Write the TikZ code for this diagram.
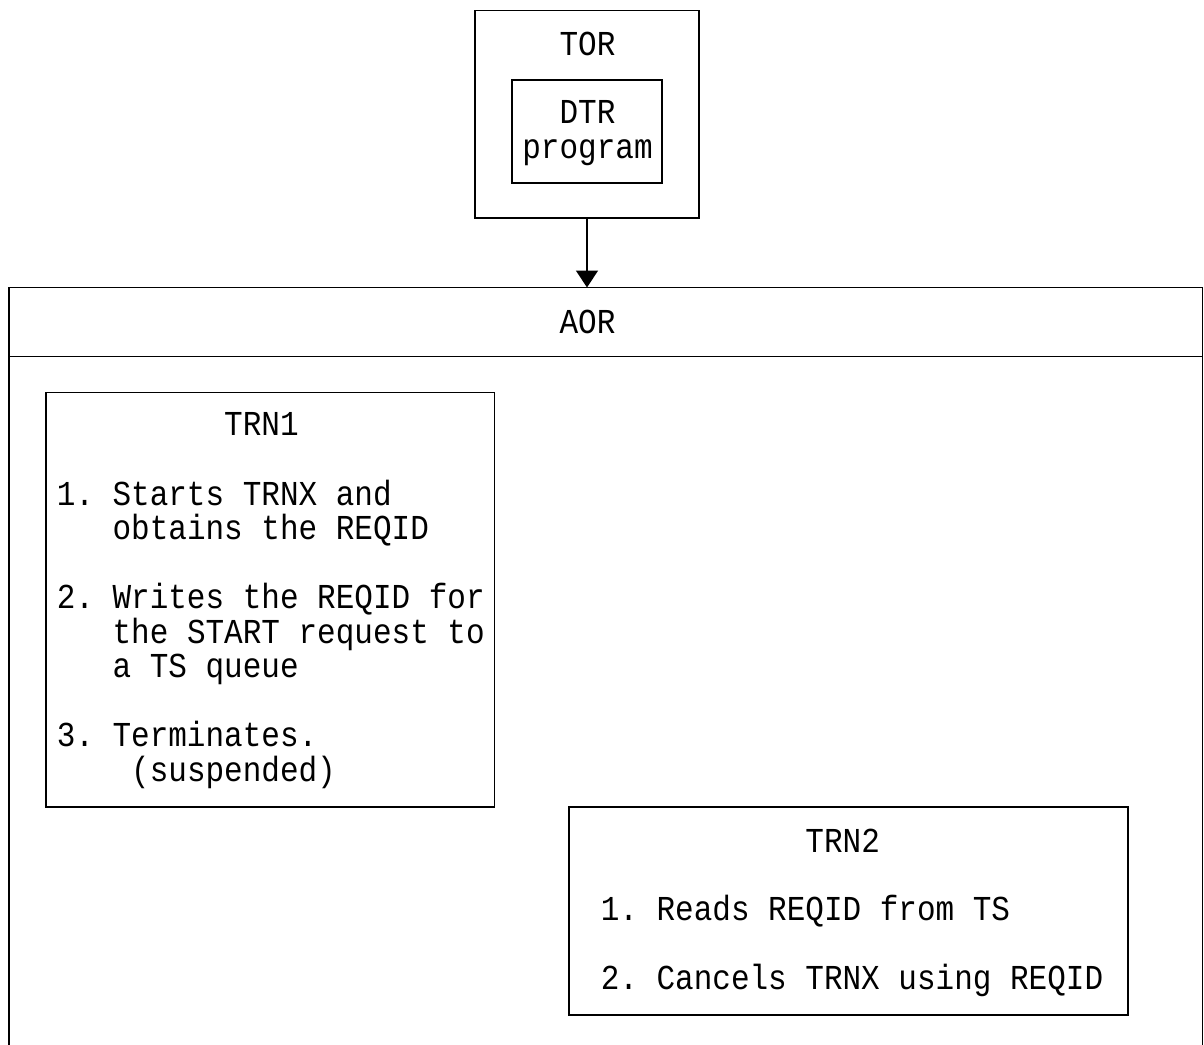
\documentclass[tikz,border=0pt]{standalone}
\usepackage{fontspec}
\newfontfamily\ibm{Liberation Mono}[FakeStretch=0.886]
\usetikzlibrary{arrows.meta}
\frenchspacing
\begin{document}
\begin{tikzpicture}[x=1pt,y=-1pt, line width=1.5pt,
  box/.style={draw, inner sep=0pt, outer sep=0pt},
  txt/.style={inner sep=0pt, font=\ibm\fontsize{35}{40}\selectfont},
  ln/.style={txt, anchor=base west},
  ctr/.style={txt, anchor=base}]
\useasboundingbox[fill=white] (0,0) rectangle (1204,1044);
% TOR
\node[box, minimum width=224pt, minimum height=207.5pt] (TOR) at (587,114.4) {};
\node[box, minimum width=150pt, minimum height=103pt] (DTR) at (587,131.5) {};
\node[ctr] (torlbl) at (587.5,55) {TOR};
\node[ctr] (dtr1) at (587.5,123) {DTR};
\node[ctr] (dtr2) at (587.5,158) {program};
% AOR
\node[inner sep=0pt, outer sep=0pt, minimum width=1193.5pt, minimum height=772.5pt] (AOR) at (605.75,673.75) {};
\draw (AOR.south west) -- (AOR.north west) -- (AOR.north east) -- (AOR.south east);
\coordinate (hdr) at (0,356.5);
\draw (AOR.west |- hdr) -- (AOR.east |- hdr);
\node[ctr] (aorlbl) at (587.5,333) {AOR};
\draw[-{Triangle[width=22pt,length=17pt]}] (TOR.south) -- (TOR.south |- AOR.north);
% TRN1
\node[box, minimum width=448.5pt, minimum height=414.5pt] (TRN1) at (270.2,599.5) {};
\node[ln] (t1a) at (56,435) {\ \ \ \ \ \ \ \ \ TRN1};
\node[ln] (t1b) at (56,505) {1. Starts TRNX and};
\node[ln] (t1c) at (56,539) {\ \ \ obtains the REQID};
\node[ln] (t1d) at (56,608) {2. Writes the REQID for};
\node[ln] (t1e) at (56,643) {\ \ \ the START request to};
\node[ln] (t1f) at (56,677) {\ \ \ a TS queue};
\node[ln] (t1g) at (56,746) {3. Terminates.};
\node[ln] (t1h) at (56,781) {\ \ \ \ (suspended)};
% TRN2
\node[box, minimum width=559pt, minimum height=208.3pt] (TRN2) at (848.5,910.9) {};
\node[ln] (t2a) at (600,852) {\ \ \ \ \ \ \ \ \ \ \ TRN2};
\node[ln] (t2b) at (600,920) {1. Reads REQID from TS};
\node[ln] (t2c) at (600,989) {2. Cancels TRNX using REQID};
\end{tikzpicture}
\end{document}
